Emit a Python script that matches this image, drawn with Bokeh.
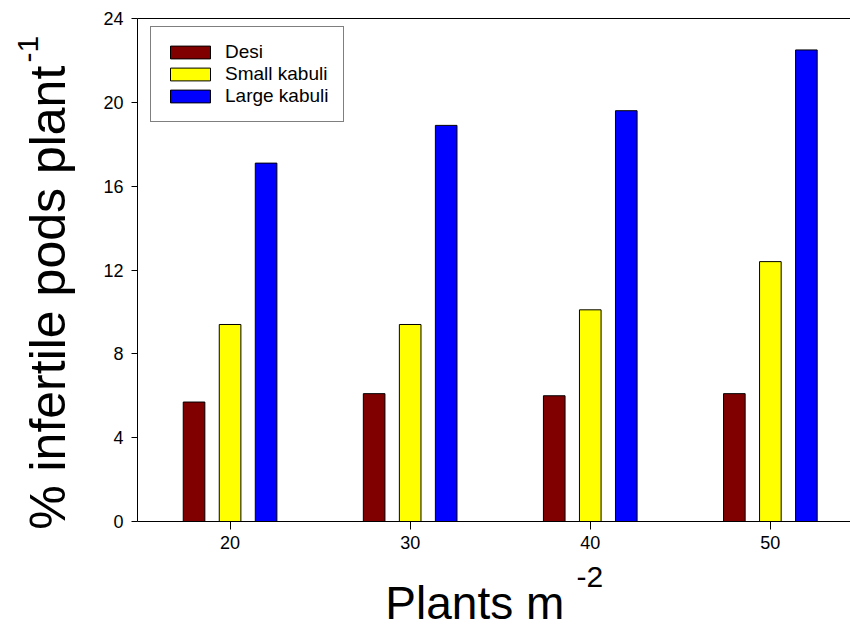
from bokeh.plotting import figure
from bokeh.models import ColumnDataSource, LinearAxis, FixedTicker, Range1d
from bokeh.embed import file_html
from bokeh.resources import INLINE
from bokeh.transform import dodge

# ---- data ----
plants = [20, 30, 40, 50]
desi = [5.7, 6.1, 6.0, 6.1]
small_kabuli = [9.4, 9.4, 10.1, 12.4]
large_kabuli = [17.1, 18.9, 19.6, 22.5]
series_names = ["Desi", "Small kabuli", "Large kabuli"]
y_ticks = [0, 4, 8, 12, 16, 20, 24]
x_title, x_sup = "Plants m", "-2"
y_title, y_sup = "% infertile pods plant", "-1"

FONT = "Liberation Sans"
NB = "\u00a0"
X0, X1 = 14.86, 54.45
Y0, Y1 = 0, 24
W, H = 850, 631
BL, BT, BB = 137, 18, 110

src = ColumnDataSource(dict(x=plants, desi=desi, small=small_kabuli, large=large_kabuli))

p = figure(width=W, height=H, output_backend="svg", toolbar_location=None,
           x_range=Range1d(X0, X1), y_range=Range1d(Y0, Y1),
           min_border_left=BL, min_border_top=BT, min_border_right=0,
           min_border_bottom=BB)
p.grid.visible = False
p.outline_line_color = None
p.background_fill_color = "white"
p.border_fill_color = "white"

bw = 1.2
p.vbar(x=dodge("x", -2, range=p.x_range), top="desi", width=bw, source=src,
       fill_color="#800000", line_color="black", line_width=1, legend_label=series_names[0])
p.vbar(x=dodge("x", 0, range=p.x_range), top="small", width=bw, source=src,
       fill_color="#FFFF00", line_color="black", line_width=1, legend_label=series_names[1])
p.vbar(x=dodge("x", 2, range=p.x_range), top="large", width=bw, source=src,
       fill_color="#0000FF", line_color="black", line_width=1, legend_label=series_names[2])

xa, ya = p.xaxis[0], p.yaxis[0]
xa.ticker = FixedTicker(ticks=plants)
ya.ticker = FixedTicker(ticks=y_ticks)
for ax in (xa, ya):
    ax.minor_tick_line_color = None
    ax.major_tick_in = 0
    ax.major_tick_line_color = "black"
    ax.axis_line_color = "black"
    ax.axis_line_width = 1
    ax.major_label_text_font = FONT
    ax.major_label_text_font_size = "18px"
    ax.major_label_text_color = "black"
    ax.axis_label_text_font = FONT
    ax.axis_label_text_font_style = "normal"
    ax.axis_label_text_color = "black"
xa.major_tick_out = 8
xa.major_label_standoff = 6
ya.major_tick_out = 6
ya.major_label_standoff = 8

# x axis title: superscript on the main axis, main words on a second (label-only) axis
xa.axis_label = NB * 23 + x_sup
xa.axis_label_text_font_size = "30px"
xa.axis_label_standoff = 8

# y axis title: main words on the main axis, superscript on a second axis
ya.axis_label = y_title + NB * 4
ya.axis_label_text_font_size = "50px"
ya.axis_label_standoff = 24


def label_axis(text, size, standoff):
    ax = LinearAxis(ticker=FixedTicker(ticks=[]), axis_line_color=None,
                    major_tick_line_color=None, minor_tick_line_color=None,
                    major_label_text_font_size="0px", axis_label=text,
                    axis_label_text_font=FONT, axis_label_text_font_style="normal",
                    axis_label_text_font_size=size, axis_label_text_color="black",
                    axis_label_standoff=standoff)
    return ax


p.add_layout(label_axis(x_title + NB * 3, "46px", -19), "below")
p.add_layout(label_axis(NB * 53 + y_sup, "30px", -26), "left")

top_axis = LinearAxis(ticker=FixedTicker(ticks=[]), major_tick_line_color=None,
                      minor_tick_line_color=None, major_label_text_font_size="0px",
                      axis_line_color="black")
p.add_layout(top_axis, "above")

# legend
lg = p.legend[0]
lg.location = (13, 503 - 9 - 95)
lg.margin = 0
lg.padding = 14
lg.spacing = 0
lg.glyph_width = 50
lg.glyph_height = 16
lg.label_height = 22
lg.label_standoff = 10
lg.label_text_font = FONT
lg.label_text_font_size = "19px"
lg.label_text_color = "black"
lg.border_line_color = "black"
lg.border_line_width = 1
lg.background_fill_alpha = 1

open("out.html", "w").write(file_html(p, INLINE))
